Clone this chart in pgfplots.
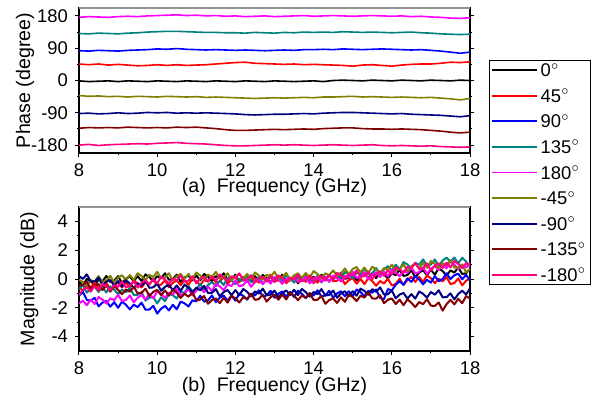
\documentclass[border=0pt]{standalone}
\usepackage{fontspec}
\setmainfont{Liberation Sans}
\usepackage{pgfplots}
\usepackage{pgfplotstable}
\pgfplotsset{compat=1.18}
\definecolor{cz}{HTML}{000000}
\definecolor{cp45}{HTML}{FF0000}
\definecolor{cp90}{HTML}{0000FF}
\definecolor{cp135}{HTML}{008080}
\definecolor{cp180}{HTML}{FF00FF}
\definecolor{cm45}{HTML}{808000}
\definecolor{cm90}{HTML}{000080}
\definecolor{cm135}{HTML}{800000}
\definecolor{cm180}{HTML}{FF0080}

% (a) phase, degree
\pgfplotstableread{
f p0 p45 p90 p135 p180 m45 m90 m135 m180
8.00 -1 46 83 131 176 -42 -92 -133 -180
8.25 -3 44 82 130 178 -44 -91 -131 -178
8.50 -2 46 84 132 177 -43 -93 -132 -181
8.75 -1 43 83 131 176 -45 -92 -131 -179
9.00 -3 45 82 130 178 -44 -90 -132 -178
9.25 -1 43 84 132 179 -46 -92 -130 -177
9.50 -2 41 85 133 178 -44 -91 -131 -176
9.75 -3 42 86 135 180 -45 -89 -132 -177
10.00 -1 44 88 136 181 -46 -90 -131 -175
10.25 -2 42 87 137 182 -44 -89 -132 -174
10.50 -3 44 89 137 183 -45 -91 -130 -173
10.75 -1 42 87 136 181 -46 -90 -131 -175
11.00 -2 43 86 135 182 -45 -91 -130 -176
11.25 -3 44 85 134 180 -47 -90 -132 -177
11.50 -1 46 86 134 181 -46 -91 -134 -179
11.75 -2 48 85 133 179 -47 -92 -137 -181
12.00 -3 50 84 133 180 -48 -93 -139 -182
12.25 -1 51 85 132 178 -49 -95 -139 -182
12.50 -2 48 84 134 179 -50 -96 -138 -181
12.75 -3 47 83 133 180 -49 -95 -137 -180
13.00 -1 46 84 132 178 -48 -94 -136 -179
13.25 -2 45 85 134 179 -49 -94 -137 -180
13.50 -3 46 84 133 180 -48 -93 -136 -179
13.75 -2 44 86 135 181 -47 -92 -135 -180
14.00 -1 45 86 134 179 -48 -93 -136 -181
14.25 -3 44 87 135 180 -46 -91 -134 -180
14.50 0 43 86 134 181 -46 -90 -133 -179
14.75 1 42 88 136 180 -45 -89 -132 -180
15.00 0 40 87 135 179 -44 -89 -132 -181
15.25 -1 43 86 134 180 -46 -90 -134 -180
15.50 1 44 87 135 181 -45 -91 -135 -179
15.75 0 42 88 134 180 -46 -92 -135 -181
16.00 -1 40 87 133 179 -47 -93 -136 -182
16.25 1 43 86 134 180 -46 -92 -135 -181
16.50 0 45 85 135 178 -47 -94 -136 -182
16.75 -1 46 86 133 179 -48 -95 -137 -183
17.00 1 46 84 132 177 -47 -96 -139 -182
17.25 0 48 82 130 176 -49 -97 -141 -184
17.50 -1 51 79 129 174 -51 -99 -144 -185
17.75 1 50 76 128 173 -54 -101 -146 -186
18.00 0 52 79 129 175 -50 -98 -144 -185
}\phasedata

% (b) magnitude, dB
\pgfplotstableread{
f p0 p45 p90 p135 p180 m45 m90 m135 m180
8.0 -0.15 -0.55 -1.15 -0.7 -1.7 -0.05 0.2 -0.45 -1.1
8.1 -0.47 -0.83 -0.9 -0.42 -1.51 -0.21 0.01 -0.44 -0.76
8.2 0.01 -0.46 -1.45 -0.94 -1.82 -0.47 0.32 -0.18 -0.57
8.3 -0.16 -0.59 -1.5 -0.66 -1.43 -0.08 -0.17 -0.72 -0.88
8.4 -0.43 -0.22 -1.3 -0.53 -1.74 -0.19 -0.16 -0.46 -0.49
8.5 -0.05 -0.65 -1.9 -0.9 -1.25 0.2 0.1 -0.35 -0.8
8.6 -0.17 -0.58 -1.64 -0.57 -1.43 -0.21 -0.44 -0.76 -0.33
8.7 0.21 -0.26 -1.53 -0.94 -1.71 -0.12 -0.18 -0.47 -0.51
8.8 -0.21 -0.74 -1.92 -0.51 -1.34 0.22 -0.07 -0.88 -0.79
8.9 -0.13 -0.42 -1.61 -0.73 -1.47 -0.24 -0.46 -0.49 -0.42
9.0 0.2 -0.25 -2.0 -1.05 -1.1 0.1 -0.15 -0.75 -0.55
9.1 -0.29 -0.59 -1.57 -0.74 -1.53 0.26 -0.52 -1.06 -0.16
9.2 0.02 -0.23 -1.79 -0.93 -1.46 -0.08 -0.09 -0.72 -0.57
9.3 0.18 -0.57 -2.11 -0.62 -1.14 0.28 -0.31 -0.88 -0.48
9.4 -0.16 -0.11 -1.78 -1.11 -1.62 -0.06 -0.63 -0.54 -0.14
9.5 0.2 -0.3 -1.95 -1.1 -1.3 0.4 -0.3 -1.0 -0.6
9.6 -0.14 -0.59 -1.64 -0.9 -1.11 0.21 -0.47 -0.96 -0.26
9.7 0.32 -0.23 -2.13 -1.5 -1.42 -0.08 -0.14 -0.67 -0.07
9.8 0.13 -0.37 -2.12 -1.3 -1.03 0.28 -0.61 -1.18 -0.38
9.9 -0.16 -0.01 -1.86 -1.25 -1.34 0.14 -0.58 -0.89 0.01
10.0 0.2 -0.45 -2.4 -1.7 -0.85 0.5 -0.3 -0.75 -0.3
10.1 0.05 -0.39 -2.06 -1.27 -1.03 0.05 -0.82 -1.12 0.16
10.2 0.4 -0.08 -1.87 -1.54 -1.31 0.1 -0.54 -0.79 -0.03
10.3 -0.05 -0.57 -2.18 -1.01 -0.94 0.4 -0.41 -1.16 -0.32
10.4 0.0 -0.26 -1.79 -1.13 -1.07 -0.1 -0.78 -0.73 0.04
10.5 0.3 -0.1 -2.1 -1.35 -0.7 0.2 -0.45 -0.95 -0.1
10.6 -0.2 -0.44 -1.57 -0.9 -1.11 0.35 -0.82 -1.31 0.26
10.7 0.1 -0.08 -1.69 -0.95 -1.02 0.0 -0.39 -1.02 -0.18
10.8 0.25 -0.42 -1.91 -0.5 -0.68 0.35 -0.61 -1.23 -0.12
10.9 -0.1 0.04 -1.48 -0.85 -1.14 0.0 -0.93 -0.94 0.19
11.0 0.25 -0.15 -1.55 -0.7 -0.8 0.45 -0.6 -1.45 -0.3
11.1 -0.1 -0.43 -1.16 -0.34 -0.61 0.25 -0.79 -1.44 0.01
11.2 0.35 -0.06 -1.57 -0.78 -0.92 -0.05 -0.48 -1.18 0.17
11.3 0.15 -0.19 -1.48 -0.42 -0.53 0.3 -0.97 -1.72 -0.17
11.4 -0.15 0.18 -1.14 -0.21 -0.84 0.15 -0.96 -1.46 0.19
11.5 0.2 -0.25 -1.6 -0.5 -0.35 0.5 -0.7 -1.35 -0.15
11.6 0.05 -0.18 -1.3 -0.11 -0.51 0.05 -1.2 -1.68 0.31
11.7 0.4 0.14 -1.15 -0.42 -0.77 0.1 -0.91 -1.31 0.12
11.8 -0.05 -0.34 -1.5 0.07 -0.38 0.4 -0.76 -1.64 -0.17
11.9 0.0 -0.02 -1.15 -0.09 -0.49 -0.1 -1.12 -1.17 0.19
12.0 0.3 0.15 -1.5 -0.35 -0.1 0.2 -0.77 -1.35 0.05
12.1 -0.21 -0.2 -1.01 0.01 -0.51 0.35 -1.13 -1.63 0.39
12.2 0.08 0.15 -1.17 -0.13 -0.42 0.0 -0.69 -1.26 -0.07
12.3 0.22 -0.2 -1.43 0.23 -0.08 0.35 -0.89 -1.39 -0.03
12.4 -0.14 0.25 -1.04 -0.21 -0.54 0.0 -1.2 -1.02 0.26
12.5 0.2 0.05 -1.15 -0.15 -0.2 0.45 -0.86 -1.45 -0.25
12.6 -0.16 -0.25 -0.78 0.16 -0.03 0.25 -1.01 -1.39 0.04
12.7 0.28 0.1 -1.21 -0.33 -0.36 -0.05 -0.67 -1.08 0.18
12.8 0.07 -0.05 -1.14 -0.02 0.01 0.3 -1.13 -1.57 -0.18
12.9 -0.24 0.3 -0.82 0.14 -0.32 0.15 -1.09 -1.26 0.16
13.0 0.1 -0.15 -1.3 -0.2 0.15 0.5 -0.8 -1.1 -0.2
13.1 -0.05 -0.1 -1.01 0.15 -0.04 0.06 -1.28 -1.44 0.25
13.2 0.3 0.2 -0.87 -0.2 -0.33 0.12 -0.96 -1.08 0.05
13.3 -0.15 -0.3 -1.23 0.25 0.03 0.42 -0.79 -1.42 -0.25
13.4 -0.1 0.0 -0.89 0.05 -0.11 -0.07 -1.12 -0.96 0.1
13.5 0.2 0.15 -1.25 -0.25 0.25 0.24 -0.75 -1.15 -0.05
13.6 -0.3 -0.2 -0.81 0.1 -0.19 0.4 -1.12 -1.47 0.3
13.7 0.0 0.15 -1.02 -0.05 -0.13 0.06 -0.69 -1.14 -0.15
13.8 0.15 -0.2 -1.33 0.3 0.18 0.42 -0.91 -1.31 -0.1
13.9 -0.2 0.25 -0.99 -0.15 -0.31 0.08 -1.23 -0.98 0.2
14.0 0.15 0.05 -1.15 -0.1 0.0 0.55 -0.9 -1.45 -0.3
14.1 -0.18 -0.25 -0.78 0.23 0.15 0.35 -1.05 -1.44 0.03
14.2 0.29 0.1 -1.21 -0.24 -0.2 0.05 -0.7 -1.18 0.21
14.3 0.11 -0.05 -1.14 0.09 0.15 0.4 -1.15 -1.72 -0.11
14.4 -0.17 0.3 -0.82 0.27 -0.2 0.25 -1.1 -1.46 0.27
14.5 0.2 -0.15 -1.3 -0.05 0.25 0.6 -0.8 -1.35 -0.05
14.6 0.07 -0.12 -1.0 0.33 0.09 0.23 -1.3 -1.66 0.43
14.7 0.44 0.16 -0.85 0.01 -0.17 0.36 -1.0 -1.27 0.26
14.8 0.01 -0.36 -1.2 0.49 0.22 0.74 -0.85 -1.58 -0.01
14.9 0.08 -0.08 -0.85 0.32 0.11 0.32 -1.2 -1.09 0.37
15.0 0.4 0.05 -1.2 0.05 0.5 0.7 -0.85 -1.25 0.25
15.1 -0.09 -0.32 -0.73 0.44 0.07 0.83 -1.16 -1.53 0.6
15.2 0.22 0.01 -0.91 0.33 0.14 0.46 -0.67 -1.16 0.15
15.3 0.38 -0.36 -1.19 0.72 0.46 0.79 -0.83 -1.29 0.2
15.4 0.04 0.07 -0.82 0.31 -0.02 0.42 -1.09 -0.92 0.5
15.5 0.4 -0.15 -0.95 0.4 0.3 0.85 -0.7 -1.35 0.0
15.6 0.06 -0.47 -0.73 0.76 0.47 0.67 -0.89 -1.36 0.34
15.7 0.52 -0.14 -1.32 0.32 0.14 0.39 -0.58 -1.12 0.53
15.8 0.33 -0.31 -1.4 0.68 0.51 0.76 -1.07 -1.68 0.22
15.9 0.04 0.02 -0.7 0.89 0.18 0.63 -1.06 -1.44 0.61
16.0 0.4 -0.45 -0.8 0.6 0.65 1.0 -0.8 -1.35 0.3
16.1 0.27 -0.34 -0.4 0.99 0.47 0.59 -1.34 -1.74 0.81
16.2 0.64 0.02 -0.15 0.68 0.19 0.68 -1.08 -1.43 0.67
16.3 0.21 -0.42 -0.4 1.17 0.56 1.02 -0.97 -1.82 0.43
16.4 0.28 -0.06 0.05 1.01 0.43 0.56 -1.36 -1.41 0.84
16.5 0.6 0.15 -0.2 0.75 0.8 0.9 -1.05 -1.65 0.75
16.6 0.12 -0.2 0.21 1.12 0.39 1.07 -1.36 -1.95 1.12
16.7 0.44 0.15 -0.03 0.99 0.48 0.74 -0.87 -1.6 0.69
16.8 0.61 -0.2 -0.37 1.36 0.82 1.11 -1.03 -1.75 0.76
16.9 0.28 0.25 -0.06 0.93 0.36 0.78 -1.29 -1.4 1.08
17.0 0.65 0.05 -0.25 1.0 0.7 1.25 -0.9 -1.85 0.6
17.1 0.3 -0.29 0.2 1.36 0.91 1.05 -1.09 -1.87 0.92
17.2 0.75 0.02 -0.15 0.92 0.62 0.75 -0.78 -1.63 1.09
17.3 0.55 -0.17 0.0 1.28 1.03 1.1 -1.27 -2.2 0.76
17.4 0.25 0.14 0.4 1.49 0.74 0.95 -1.26 -1.75 1.13
17.5 0.6 -0.35 0.0 1.2 1.25 1.3 -1.0 -1.45 0.8
17.6 0.45 -0.28 0.26 1.49 1.01 0.79 -1.42 -1.76 1.25
17.7 0.8 0.04 0.37 1.08 0.67 0.78 -1.04 -1.37 1.05
17.8 0.35 -0.44 -0.02 1.47 0.98 1.02 -0.81 -1.68 0.75
17.9 0.4 -0.12 0.29 1.21 0.79 0.46 -1.08 -1.19 1.1
18.0 0.7 0.05 -0.1 0.85 1.1 0.7 -0.65 -1.35 0.95
}\magdata

\pgfplotsset{
  panel/.style={
    scale only axis, width=195.5pt,
    xmin=8, xmax=18, xtick={8,10,...,18}, minor x tick num=1,
    tick align=outside, major tick length=2pt, minor tick length=1.2pt,
    xtick pos=bottom,
    every tick/.style={black, line width=0.5pt},
    axis line style={line width=0.6pt},
    tick label style={font=\fontsize{9.2}{10}\selectfont},
    label style={font=\fontsize{9.8}{11}\selectfont},
    /pgf/number format/assume math mode=true,
    after end axis/.code={
      \draw[gray!85, line width=0.9pt] (rel axis cs:0,1) -- (rel axis cs:1,1);
    },
  },
  trace/.style={line width=#1, line join=round, no markers},
}

\begin{document}
\begin{tikzpicture}
\useasboundingbox (0,0) rectangle (302pt,-201.5pt);

\begin{axis}[panel,
  at={(39.5pt,-4pt)}, anchor=north west, height=72.5pt,
  ymin=-202, ymax=202, ytick={-180,-90,0,90,180}, minor y tick num=1,
  ylabel={Phase (degree)},
  ylabel style={at={(axis description cs:-0.138,0.5)}, anchor=center},
  xlabel={(a)\ \ Frequency (GHz)},
  xlabel style={at={(axis description cs:0.5,-0.234)}, anchor=center},
  legend style={at={(axis description cs:1.0486,0.641)}, anchor=north west,
    draw=black, line width=0.5pt, font=\fontsize{9.2}{10}\selectfont,
    inner sep=1pt, row sep=5.2pt,
    nodes={inner xsep=1.2pt, inner ysep=0.5pt, text height=6.6pt, text depth=0pt}},
  legend cell align=left,
  legend image code/.code={\draw[#1] (0pt,0pt) -- (22.5pt,0pt);},
]
\addlegendimage{draw=cz, line width=0.9pt}
\addlegendentry{0$^\circ$}
\addlegendimage{draw=cp45, line width=0.9pt}
\addlegendentry{45$^\circ$}
\addlegendimage{draw=cp90, line width=0.9pt}
\addlegendentry{90$^\circ$}
\addlegendimage{draw=cp135, line width=0.9pt}
\addlegendentry{135$^\circ$}
\addlegendimage{draw=cp180, line width=0.9pt}
\addlegendentry{180$^\circ$}
\addlegendimage{draw=cm45, line width=0.9pt}
\addlegendentry{-45$^\circ$}
\addlegendimage{draw=cm90, line width=0.9pt}
\addlegendentry{-90$^\circ$}
\addlegendimage{draw=cm135, line width=0.9pt}
\addlegendentry{-135$^\circ$}
\addlegendimage{draw=cm180, line width=0.9pt}
\addlegendentry{-180$^\circ$}
\addplot[cz, trace=0.8pt, forget plot] table[x=f, y=p0] {\phasedata};
\addplot[cp45, trace=0.8pt, forget plot] table[x=f, y=p45] {\phasedata};
\addplot[cp90, trace=0.8pt, forget plot] table[x=f, y=p90] {\phasedata};
\addplot[cp135, trace=0.8pt, forget plot] table[x=f, y=p135] {\phasedata};
\addplot[cp180, trace=0.8pt, forget plot] table[x=f, y=p180] {\phasedata};
\addplot[cm45, trace=0.8pt, forget plot] table[x=f, y=m45] {\phasedata};
\addplot[cm90, trace=0.8pt, forget plot] table[x=f, y=m90] {\phasedata};
\addplot[cm135, trace=0.8pt, forget plot] table[x=f, y=m135] {\phasedata};
\addplot[cm180, trace=0.8pt, forget plot] table[x=f, y=m180] {\phasedata};
\end{axis}

\begin{axis}[panel,
  at={(39.5pt,-103.5pt)}, anchor=north west, height=72pt,
  ymin=-5, ymax=5, ytick={-4,-2,0,2,4}, minor y tick num=1,
  ylabel={Magnitude (dB)},
  ylabel style={at={(axis description cs:-0.127,0.5)}, anchor=center},
  xlabel={(b)\ \ Frequency (GHz)},
  xlabel style={at={(axis description cs:0.5,-0.243)}, anchor=center},
]
\addplot[cz, trace=1pt] table[x=f, y=p0] {\magdata};
\addplot[cp45, trace=1pt] table[x=f, y=p45] {\magdata};
\addplot[cp90, trace=1pt] table[x=f, y=p90] {\magdata};
\addplot[cp135, trace=1pt] table[x=f, y=p135] {\magdata};
\addplot[cp180, trace=1pt] table[x=f, y=p180] {\magdata};
\addplot[cm45, trace=1pt] table[x=f, y=m45] {\magdata};
\addplot[cm90, trace=1pt] table[x=f, y=m90] {\magdata};
\addplot[cm135, trace=1pt] table[x=f, y=m135] {\magdata};
\addplot[cm180, trace=1pt] table[x=f, y=m180] {\magdata};
\end{axis}
\end{tikzpicture}
\end{document}
